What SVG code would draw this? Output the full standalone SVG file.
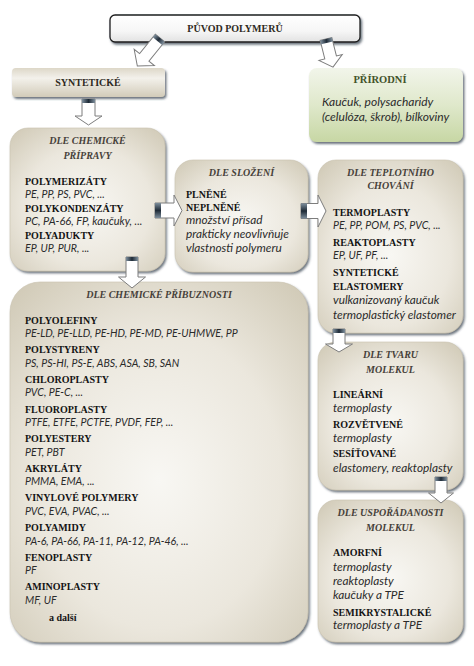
<svg xmlns="http://www.w3.org/2000/svg" width="474" height="666" viewBox="0 0 474 666">
<defs>
<style>
.b{font-family:"Liberation Serif",serif;font-weight:bold;font-size:10px;fill:#141414}
.t{font-family:"Liberation Serif",serif;font-weight:bold;font-style:italic;font-size:10px;fill:#46413a;text-anchor:middle}
.i{font-family:Lato,"Liberation Sans",sans-serif;font-style:italic;font-size:10.6px;fill:#2b2b2b}
.il{font-family:Lato,"Liberation Sans",sans-serif;font-style:italic;font-size:11.8px;fill:#2b2b2b}
.box{fill:url(#beige);stroke:#c9c2b0;stroke-width:0.6;filter:url(#sh)}
.arr{fill:#ffffff;stroke:#7d7d7d;stroke-width:1}
.band{fill:url(#band)}
</style>
<radialGradient id="beige" cx="50%" cy="55%" r="75%">
<stop offset="0" stop-color="#f8f7f3"/>
<stop offset="0.55" stop-color="#ebe7dd"/>
<stop offset="1" stop-color="#cec7b3"/>
</radialGradient>
<linearGradient id="syn" x1="0" y1="0" x2="0" y2="1">
<stop offset="0" stop-color="#ddd7c8"/>
<stop offset="0.35" stop-color="#f3f1eb"/>
<stop offset="1" stop-color="#d2cbb9"/>
</linearGradient>
<linearGradient id="green" x1="0" y1="0" x2="0" y2="1">
<stop offset="0" stop-color="#f2f5ea"/>
<stop offset="0.5" stop-color="#dfe8cb"/>
<stop offset="1" stop-color="#c7d7a4"/>
</linearGradient>
<linearGradient id="white" x1="0" y1="0" x2="0" y2="1">
<stop offset="0" stop-color="#ffffff"/>
<stop offset="0.6" stop-color="#f6f6f6"/>
<stop offset="1" stop-color="#e2e2e2"/>
</linearGradient>
<linearGradient id="band" x1="0" y1="0" x2="0" y2="1">
<stop offset="0" stop-color="#7d8e9c"/>
<stop offset="0.5" stop-color="#1f2b37"/>
<stop offset="1" stop-color="#7d8e9c"/>
</linearGradient>
<filter id="sh" x="-10%" y="-10%" width="125%" height="125%">
<feDropShadow dx="1.5" dy="2" stdDeviation="0.9" flood-color="#2f3c48" flood-opacity="0.7"/>
</filter>
</defs>
<rect width="474" height="666" fill="#ffffff"/>

<g id="puvod">
<rect x="110" y="15" width="250" height="27" rx="5" fill="url(#white)" stroke="#1e1e1e" stroke-width="1.3" filter="url(#sh)"/>
<text class="b" x="235" y="32" text-anchor="middle" style="fill:#2f2a22">PŮVOD POLYMERŮ</text>
</g>

<g id="synteticke">
<rect x="12" y="68" width="153" height="29" rx="4" fill="url(#syn)" filter="url(#sh)"/>
<text class="b" x="88" y="86" text-anchor="middle" style="fill:#2f2a22">SYNTETICKÉ</text>
</g>

<g id="prirodni">
<rect x="309" y="68" width="154" height="74" rx="8" fill="url(#green)" filter="url(#sh)"/>
<text class="b" x="380" y="83" text-anchor="middle" style="fill:#43532a;font-size:10.5px">PŘÍRODNÍ</text>
<text class="il" x="322" y="106" style="font-size:12px">Kaučuk, polysacharidy</text>
<text class="il" x="322" y="121" style="font-size:12px">(celulóza, škrob), bílkoviny</text>
</g>

<g id="chem-priprava">
<rect class="box" x="10" y="128" width="155" height="143" rx="18"/>
<text class="t" x="87.5" y="144">DLE CHEMICKÉ</text>
<text class="t" x="87.5" y="159">PŘÍPRAVY</text>
<text class="b" x="25" y="185">POLYMERIZÁTY</text>
<text class="i" x="25" y="197.5">PE, PP, PS, PVC, ...</text>
<text class="b" x="25" y="212">POLYKONDENZÁTY</text>
<text class="i" x="25" y="224.5" style="font-size:11px">PC, PA-66, FP, kaučuky, ...</text>
<text class="b" x="25" y="239">POLYADUKTY</text>
<text class="i" x="25" y="251.5">EP, UP, PUR, ...</text>
</g>

<g id="slozeni">
<rect class="box" x="175" y="160" width="133" height="112" rx="18"/>
<text class="t" x="241.5" y="176">DLE SLOŽENÍ</text>
<text class="b" x="186" y="198">PLNĚNÉ</text>
<text class="b" x="186" y="211">NEPLNĚNÉ</text>
<text class="il" x="186" y="224">množství přísad</text>
<text class="il" x="186" y="238">prakticky neovlivňuje</text>
<text class="il" x="186" y="252">vlastnosti polymeru</text>
</g>

<g id="teplotni">
<rect class="box" x="318" y="160" width="145" height="173" rx="18"/>
<text class="t" x="390.5" y="176">DLE TEPLOTNÍHO</text>
<text class="t" x="390.5" y="189">CHOVÁNÍ</text>
<text class="b" x="333" y="216">TERMOPLASTY</text>
<text class="i" x="333" y="229">PE, PP, POM, PS, PVC, ...</text>
<text class="b" x="333" y="245.5">REAKTOPLASTY</text>
<text class="i" x="333" y="259">EP, UF, PF, ...</text>
<text class="b" x="333" y="276">SYNTETICKÉ</text>
<text class="b" x="333" y="290">ELASTOMERY</text>
<text class="il" x="333" y="304">vulkanizovaný kaučuk</text>
<text class="il" x="333" y="319">termoplastický elastomer</text>
</g>

<g id="chem-pribuznost">
<rect class="box" x="10" y="282" width="298" height="360" rx="30"/>
<text class="t" x="159" y="298">DLE CHEMICKÉ PŘÍBUZNOSTI</text>
<text class="b" x="25" y="323.5">POLYOLEFINY</text>
<text class="i" x="25" y="337">PE-LD, PE-LLD, PE-HD, PE-MD, PE-UHMWE, PP</text>
<text class="b" x="25" y="353.2">POLYSTYRENY</text>
<text class="i" x="25" y="366.7">PS, PS-HI, PS-E, ABS, ASA, SB, SAN</text>
<text class="b" x="25" y="382.8">CHLOROPLASTY</text>
<text class="i" x="25" y="396.3">PVC, PE-C, ...</text>
<text class="b" x="25" y="412.5">FLUOROPLASTY</text>
<text class="i" x="25" y="426">PTFE, ETFE, PCTFE, PVDF, FEP, ...</text>
<text class="b" x="25" y="442.1">POLYESTERY</text>
<text class="i" x="25" y="455.6">PET, PBT</text>
<text class="b" x="25" y="471.8">AKRYLÁTY</text>
<text class="i" x="25" y="485.3">PMMA, EMA, ...</text>
<text class="b" x="25" y="501.4">VINYLOVÉ POLYMERY</text>
<text class="i" x="25" y="514.9">PVC, EVA, PVAC, ...</text>
<text class="b" x="25" y="531.1">POLYAMIDY</text>
<text class="i" x="25" y="544.6">PA-6, PA-66, PA-11, PA-12, PA-46, ...</text>
<text class="b" x="25" y="560.7">FENOPLASTY</text>
<text class="i" x="25" y="574.2">PF</text>
<text class="b" x="25" y="590.4">AMINOPLASTY</text>
<text class="i" x="25" y="603.9">MF, UF</text>
<text class="b" x="49" y="620.5">a další</text>
</g>

<g id="tvar">
<rect class="box" x="318" y="342" width="145" height="148" rx="18"/>
<text class="t" x="390.5" y="358">DLE TVARU</text>
<text class="t" x="390.5" y="373">MOLEKUL</text>
<text class="b" x="333" y="397.5">LINEÁRNÍ</text>
<text class="il" x="333" y="411.5">termoplasty</text>
<text class="b" x="333" y="428">ROZVĚTVENÉ</text>
<text class="il" x="333" y="442">termoplasty</text>
<text class="b" x="333" y="457">SESÍŤOVANÉ</text>
<text class="il" x="333" y="471.5">elastomery, reaktoplasty</text>
</g>

<g id="usporadanost">
<rect class="box" x="318" y="500" width="145" height="142" rx="18"/>
<text class="t" x="390.5" y="515.5">DLE USPOŘÁDANOSTI</text>
<text class="t" x="390.5" y="530.5">MOLEKUL</text>
<text class="b" x="333" y="556">AMORFNÍ</text>
<text class="il" x="333" y="570.5">termoplasty</text>
<text class="il" x="333" y="584.5">reaktoplasty</text>
<text class="il" x="333" y="598.5">kaučuky a TPE</text>
<text class="b" x="333" y="615.5">SEMIKRYSTALICKÉ</text>
<text class="il" x="333" y="629">termoplasty a TPE</text>
</g>

<g id="connectors">
<g transform="translate(160,38) rotate(129)">
<path class="arr" d="M0,-6 H25 V-13 L36,0 L25,13 V6 H0 Z"/>
<rect class="band" x="0" y="-6" width="4" height="12"/>
</g>
<g transform="translate(326,39) rotate(76)">
<path class="arr" d="M0,-6 H19 V-12 L29,0 L19,12 V6 H0 Z"/>
<rect class="band" x="0" y="-6" width="4" height="12"/>
</g>
<g transform="translate(88.5,99) rotate(90)">
<path class="arr" d="M0,-6.5 H17 V-13.5 L26,0 L17,13.5 V6.5 H0 Z"/>
<rect class="band" x="0" y="-6.5" width="4" height="13"/>
</g>
<g transform="translate(155,210.5)">
<path class="arr" d="M0,-7.5 H19 V-15.5 L27,0 L19,15.5 V7.5 H0 Z"/>
<rect class="band" x="0" y="-7.5" width="6" height="15"/>
</g>
<g transform="translate(301,211)">
<path class="arr" d="M0,-7.5 H17 V-16 L25,0 L17,16 V7.5 H0 Z"/>
<rect class="band" x="0" y="-7.5" width="6" height="15"/>
</g>
<g transform="translate(132,257) rotate(90)">
<path class="arr" d="M0,-6 H20 V-13.5 L31,0 L20,13.5 V6 H0 Z"/>
<rect class="band" x="0" y="-6" width="4" height="12"/>
</g>
<g transform="translate(339,329) rotate(90)">
<path class="arr" d="M0,-6 H15 V-13.5 L23,0 L15,13.5 V6 H0 Z"/>
<rect class="band" x="0" y="-6" width="4" height="12"/>
</g>
<g transform="translate(441,477) rotate(90)">
<path class="arr" d="M0,-6 H16 V-12.5 L26,0 L16,12.5 V6 H0 Z"/>
<rect class="band" x="0" y="-6" width="4" height="12"/>
</g>
</g>
</svg>
